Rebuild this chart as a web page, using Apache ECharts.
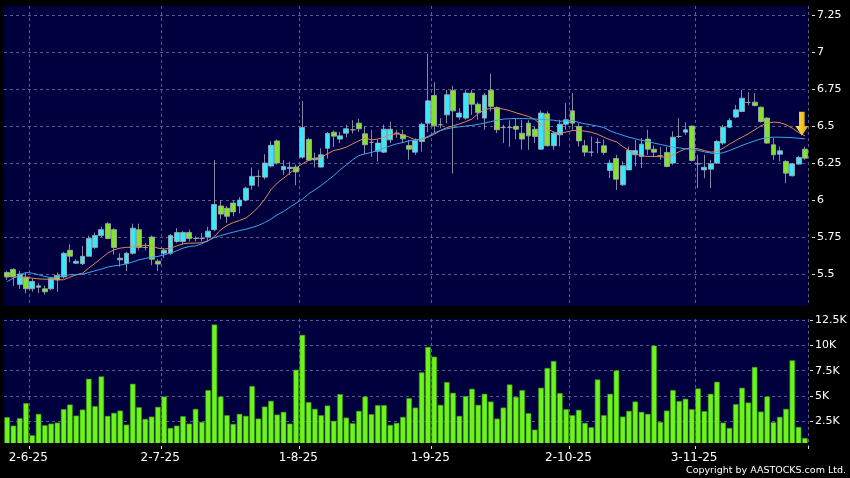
<!DOCTYPE html>
<html><head><meta charset="utf-8">
<script src="https://cdn.jsdelivr.net/npm/echarts@6/dist/echarts.min.js"></script>
<style>html,body{margin:0;padding:0;background:#000;}#c{width:850px;height:478px;}</style>
</head><body><div id="c"></div>
<script>
const dates = ['27-5-25','28-5-25','29-5-25','30-5-25',
'2-6-25','3-6-25','4-6-25','5-6-25','6-6-25','9-6-25','10-6-25','11-6-25','12-6-25','13-6-25','16-6-25','17-6-25','18-6-25','19-6-25','20-6-25','23-6-25','24-6-25','25-6-25','26-6-25','27-6-25','30-6-25',
'2-7-25','3-7-25','4-7-25','7-7-25','8-7-25','9-7-25','10-7-25','11-7-25','14-7-25','15-7-25','16-7-25','17-7-25','18-7-25','21-7-25','22-7-25','23-7-25','24-7-25','25-7-25','28-7-25','29-7-25','30-7-25','31-7-25',
'1-8-25','4-8-25','5-8-25','6-8-25','7-8-25','8-8-25','11-8-25','12-8-25','13-8-25','14-8-25','15-8-25','18-8-25','19-8-25','20-8-25','21-8-25','22-8-25','25-8-25','26-8-25','27-8-25','28-8-25','29-8-25',
'1-9-25','2-9-25','3-9-25','4-9-25','5-9-25','8-9-25','9-9-25','10-9-25','11-9-25','12-9-25','15-9-25','16-9-25','17-9-25','18-9-25','19-9-25','22-9-25','23-9-25','24-9-25','25-9-25','26-9-25','29-9-25','30-9-25',
'2-10-25','3-10-25','6-10-25','8-10-25','9-10-25','10-10-25','13-10-25','14-10-25','15-10-25','16-10-25','17-10-25','20-10-25','21-10-25','22-10-25','23-10-25','24-10-25','27-10-25','28-10-25','30-10-25','31-10-25',
'3-11-25','4-11-25','5-11-25','6-11-25','7-11-25','10-11-25','11-11-25','12-11-25','13-11-25','14-11-25','17-11-25','18-11-25','19-11-25','20-11-25','21-11-25','24-11-25','25-11-25','26-11-25'];

const opens = [5.51,5.53,5.43,5.48,5.40,5.41,5.40,5.40,5.49,5.48,
5.66,5.573,5.57,5.62,5.68,5.76,5.84,5.80,5.596,5.57,
5.64,5.80,5.68,5.75,5.587,5.641,5.64,5.72,5.72,5.78,
5.74,5.74,5.75,5.80,5.96,5.945,5.98,5.96,6.00,6.10,
6.16,6.155,6.23,6.40,6.205,6.213,6.223,6.29,6.41,6.272,
6.223,6.35,6.459,6.412,6.452,6.475,6.52,6.448,6.39,6.33,
6.324,6.407,6.452,6.441,6.369,6.324,6.396,6.52,6.707,6.509,
6.576,6.741,6.561,6.554,6.723,6.648,6.554,6.743,6.626,6.49,
6.49,6.499,6.452,6.52,6.479,6.344,6.583,6.367,6.441,6.513,
6.603,6.497,6.367,6.324,6.39,6.367,6.20,6.281,6.103,6.204,
6.306,6.295,6.412,6.344,6.30,6.322,6.25,6.43,6.459,6.50,
6.245,6.204,6.209,6.25,6.385,6.493,6.561,6.599,6.66,6.662,
6.628,6.554,6.374,6.31,6.261,6.164,6.243,6.344];

const closes = [5.48,5.48,5.50,5.40,5.45,5.42,5.38,5.47,5.46,5.64,
5.62,5.586,5.62,5.74,5.76,5.80,5.74,5.68,5.607,5.64,
5.81,5.68,5.68,5.60,5.567,5.659,5.76,5.78,5.78,5.74,
5.74,5.74,5.79,5.97,5.905,5.89,5.92,6.00,6.08,6.16,
6.16,6.25,6.37,6.25,6.227,6.222,6.19,6.49,6.27,6.283,
6.306,6.45,6.432,6.434,6.482,6.475,6.482,6.374,6.39,6.385,
6.479,6.479,6.452,6.414,6.344,6.401,6.513,6.671,6.502,6.509,
6.712,6.603,6.588,6.723,6.648,6.592,6.709,6.633,6.475,6.49,
6.49,6.479,6.412,6.434,6.43,6.588,6.367,6.452,6.513,6.543,
6.52,6.40,6.324,6.324,6.39,6.322,6.25,6.141,6.232,6.335,
6.335,6.378,6.344,6.324,6.30,6.227,6.425,6.43,6.475,6.268,
6.245,6.222,6.245,6.396,6.493,6.538,6.61,6.689,6.66,6.639,
6.531,6.385,6.306,6.333,6.182,6.245,6.288,6.283];

const lows = [5.46,5.42,5.40,5.37,5.38,5.37,5.36,5.39,5.38,5.47,
5.58,5.567,5.56,5.62,5.67,5.75,5.735,5.63,5.55,5.52,
5.63,5.66,5.66,5.56,5.52,5.61,5.63,5.71,5.70,5.72,
5.72,5.72,5.72,5.79,5.87,5.845,5.89,5.91,5.99,6.07,
6.09,6.14,6.22,6.24,6.17,6.17,6.10,6.28,6.265,6.22,
6.22,6.28,6.36,6.385,6.425,6.45,6.46,6.31,6.29,6.26,
6.317,6.385,6.42,6.385,6.272,6.306,6.328,6.459,6.452,6.486,
6.52,6.18,6.543,6.543,6.576,6.543,6.475,6.599,6.452,6.385,
6.36,6.41,6.34,6.34,6.385,6.34,6.362,6.34,6.362,6.475,
6.475,6.362,6.295,6.295,6.317,6.306,6.148,6.069,6.096,6.20,
6.227,6.216,6.306,6.29,6.27,6.222,6.238,6.42,6.441,6.261,
6.08,6.148,6.08,6.245,6.374,6.486,6.554,6.594,6.64,6.633,
6.524,6.38,6.272,6.261,6.114,6.159,6.238,6.272];

const highs = [5.52,5.54,5.52,5.51,5.47,5.44,5.42,5.48,5.51,5.65,
5.70,5.60,5.69,5.76,5.78,5.82,5.85,5.81,5.64,5.65,
5.84,5.84,5.71,5.76,5.60,5.675,5.77,5.81,5.79,5.80,
5.755,5.776,5.82,6.27,6.00,5.96,6.00,6.02,6.09,6.22,
6.205,6.31,6.40,6.41,6.27,6.26,6.24,6.67,6.42,6.32,
6.35,6.46,6.47,6.46,6.51,6.54,6.55,6.50,6.475,6.41,
6.51,6.53,6.475,6.475,6.407,6.418,6.524,6.99,6.797,6.554,
6.745,6.772,6.621,6.745,6.745,6.66,6.723,6.854,6.633,6.51,
6.54,6.554,6.543,6.54,6.497,6.606,6.599,6.464,6.543,6.655,
6.723,6.52,6.407,6.43,6.418,6.41,6.272,6.306,6.261,6.362,
6.407,6.419,6.475,6.37,6.36,6.362,6.464,6.554,6.525,6.502,
6.306,6.306,6.272,6.407,6.509,6.554,6.644,6.745,6.73,6.723,
6.633,6.561,6.419,6.362,6.272,6.25,6.299,6.362];

const maFast = [5.483,5.483,5.479,5.476,5.472,5.467,5.465,5.465,5.461,5.461,
5.479,5.495,5.506,5.54,5.573,5.607,5.641,5.664,5.675,5.68,
5.682,5.69,5.695,5.69,5.675,5.668,5.675,5.69,5.704,5.709,
5.709,5.712,5.725,5.754,5.799,5.828,5.848,5.862,5.878,5.912,
5.952,6.006,6.07,6.115,6.148,6.182,6.216,6.245,6.268,6.283,
6.29,6.313,6.335,6.344,6.358,6.38,6.401,6.419,6.407,6.412,
6.425,6.441,6.448,6.441,6.425,6.407,6.407,6.425,6.445,6.47,
6.49,6.502,6.515,6.53,6.548,6.585,6.61,6.62,6.621,6.615,
6.605,6.59,6.578,6.565,6.545,6.51,6.48,6.46,6.452,6.46,
6.47,6.47,6.466,6.458,6.445,6.425,6.407,6.394,6.362,6.335,
6.313,6.299,6.295,6.295,6.292,6.29,6.304,6.328,6.346,6.353,
6.346,6.335,6.324,6.328,6.351,6.378,6.403,6.425,6.448,6.475,
6.502,6.52,6.527,6.524,6.509,6.486,6.457,6.434];

const maSlow = [5.449,5.472,5.495,5.51,5.506,5.495,5.483,5.476,5.479,5.488,
5.495,5.495,5.499,5.51,5.522,5.533,5.547,5.555,5.56,5.569,
5.582,5.596,5.605,5.614,5.619,5.63,5.641,5.657,5.675,5.686,
5.69,5.705,5.725,5.747,5.76,5.772,5.783,5.794,5.803,5.815,
5.828,5.848,5.871,5.9,5.923,5.952,5.979,6.006,6.042,6.069,
6.099,6.132,6.166,6.205,6.238,6.272,6.301,6.313,6.322,6.335,
6.351,6.367,6.38,6.389,6.401,6.405,6.415,6.43,6.455,6.47,
6.482,6.49,6.495,6.5,6.505,6.512,6.52,6.53,6.54,6.547,
6.55,6.551,6.551,6.55,6.548,6.545,6.543,6.54,6.533,6.535,
6.538,6.525,6.515,6.508,6.5,6.49,6.468,6.452,6.438,6.425,
6.414,6.404,6.396,6.385,6.376,6.367,6.358,6.352,6.347,6.343,
6.336,6.326,6.318,6.314,6.32,6.335,6.352,6.37,6.385,6.4,
6.413,6.422,6.425,6.425,6.424,6.422,6.418,6.414];

const volumeK = [2.87,2.03,2.77,4.27,1.07,3.2,2.07,2.23,2.33,3.67,
4.13,3.03,3.63,6.7,3.97,6.93,3.0,3.3,3.53,2.13,
6.2,3.87,2.7,2.93,3.9,4.93,1.8,2.03,2.97,2.23,
3.7,2.4,5.57,12.1,4.93,3.07,2.2,3.2,3.0,5.97,
2.73,3.93,4.5,3.13,3.4,2.23,7.6,11.07,4.37,3.7,
3.07,4.03,2.5,5.17,2.83,2.27,3.5,4.93,3.17,4.07,
4.07,2.1,2.3,2.9,4.77,3.83,7.33,9.87,8.9,4.1,
6.37,5.3,3.0,4.97,5.7,4.1,5.2,4.43,2.73,3.83,
6.13,4.9,5.57,3.27,1.63,5.8,7.77,8.47,5.27,3.67,
3.07,3.6,2.3,1.87,6.63,3.07,5.2,7.53,2.93,3.5,
4.43,3.4,3.2,10.0,2.4,3.53,5.57,4.47,4.7,3.67,
5.73,3.47,5.2,6.4,2.33,1.8,4.17,5.8,4.33,7.87,
3.43,4.93,2.37,2.9,3.7,8.53,1.9,0.8];

const priceTicks = {min: 5.25, max: 7.312, step: 0.25};
const volTicks = {min: 0, max: 12.65, step: 2.5};
const arrowAt = {index: 127, price: 6.434};

const monthStart = (i) => i > 0 && dates[i].split('-')[1] !== dates[i-1].split('-')[1];
const candleData = opens.map((o, i) => [o, closes[i], lows[i], highs[i]]);

const NAVY = '#00003f';
const GRIDC = '#5a5a8e';
const FONT = 'DejaVu Sans';

const chart = echarts.init(document.getElementById('c'), null, {renderer: 'canvas'});
chart.setOption({
  animation: false,
  backgroundColor: '#000000',
  grid: [
    {left: 4, right: 42, top: 6, height: 305, show: true, backgroundColor: NAVY, borderWidth: 0},
    {left: 4, right: 42, top: 319, height: 127, show: true, backgroundColor: NAVY, borderWidth: 0}
  ],
  xAxis: [
    {type: 'category', gridIndex: 0, data: dates, boundaryGap: true,
     axisLine: {show: false}, axisTick: {show: false}, axisLabel: {show: false},
     splitLine: {show: true, interval: monthStart, lineStyle: {color: GRIDC, type: [3, 3], width: 1}}},
    {type: 'category', gridIndex: 1, data: dates, boundaryGap: true,
     axisLine: {show: false},
     axisTick: {show: true, interval: monthStart, length: 3, lineStyle: {color: '#dddddd'}},
     axisLabel: {show: true, interval: monthStart, color: '#ffffff', fontFamily: FONT, fontSize: 12, margin: 6, padding: [0, 8, 0, 0]},
     splitLine: {show: true, interval: monthStart, lineStyle: {color: GRIDC, type: [3, 3], width: 1}}}
  ],
  yAxis: [
    {type: 'value', gridIndex: 0, position: 'right', offset: 4,
     min: priceTicks.min, max: priceTicks.max, interval: priceTicks.step,
     axisLine: {show: false},
     axisTick: {show: true, length: 3, lineStyle: {color: '#dddddd'}},
     axisLabel: {color: '#ffffff', fontFamily: FONT, fontSize: 11, margin: 5, showMinLabel: false, showMaxLabel: false},
     splitLine: {show: true, showMinLine: false, showMaxLine: false, lineStyle: {color: GRIDC, type: [3, 3], width: 1}}},
    {type: 'value', gridIndex: 1, position: 'right', offset: 2,
     min: volTicks.min, max: volTicks.max, interval: volTicks.step,
     axisLine: {show: false},
     axisTick: {show: true, length: 3, lineStyle: {color: '#dddddd'}},
     axisLabel: {color: '#ffffff', fontFamily: FONT, fontSize: 11, margin: 5, showMinLabel: false, showMaxLabel: false,
                 formatter: (v) => v + 'K'},
     splitLine: {show: true, showMinLine: false, showMaxLine: false, lineStyle: {color: GRIDC, type: [3, 3], width: 1}}}
  ],
  series: [
    {type: 'candlestick', xAxisIndex: 0, yAxisIndex: 0, data: candleData, barWidth: '86%',
     itemStyle: {color: '#38e8f8', color0: '#80e42c', borderColor: '#a4afb8', borderColor0: '#a4afb8',
                 borderColorDoji: '#a8a8a8', borderWidth: 0.8}},
    {type: 'line', xAxisIndex: 0, yAxisIndex: 0, data: maFast, showSymbol: false, symbol: 'none',
     lineStyle: {color: '#e08a58', width: 1}, z: 3,
     markPoint: {symbol: 'path://M4,0 L10,0 L10,13 L14,13 L7,22 L0,13 L4,13 Z', symbolSize: [13, 24],
                 symbolOffset: [-3, -12], label: {show: false},
                 itemStyle: {color: {type: 'linear', x: 0, y: 0, x2: 1, y2: 0,
                   colorStops: [{offset: 0, color: '#ffe85a'}, {offset: 1, color: '#e0a000'}]}},
                 data: [{coord: [arrowAt.index, arrowAt.price]}]}},
    {type: 'line', xAxisIndex: 0, yAxisIndex: 0, data: maSlow, showSymbol: false, symbol: 'none',
     lineStyle: {color: '#3ea6ea', width: 1}, z: 3},
    {type: 'bar', xAxisIndex: 1, yAxisIndex: 1, data: volumeK, barWidth: '88%',
     itemStyle: {color: '#6cf51c', borderColor: '#3f8f12', borderWidth: 0.6}}
  ],
  graphic: [
    {type: 'rect', z: 100, shape: {x: 0, y: 306, width: 850, height: 8}, style: {fill: '#000000'}},
    {type: 'rect', z: 100, shape: {x: 0, y: 314, width: 808, height: 5}, style: {fill: '#000000'}},
    {type: 'rect', z: 100, shape: {x: 0, y: 443, width: 808, height: 3}, style: {fill: '#000000'}},
    {type: 'text', z: 100, style: {x: 846, y: 471, text: 'Copyright by AASTOCKS.com Ltd.', fill: '#ffffff',
      font: '9.5px "DejaVu Sans"', align: 'right', verticalAlign: 'middle'}}
  ]
});
</script></body></html>
